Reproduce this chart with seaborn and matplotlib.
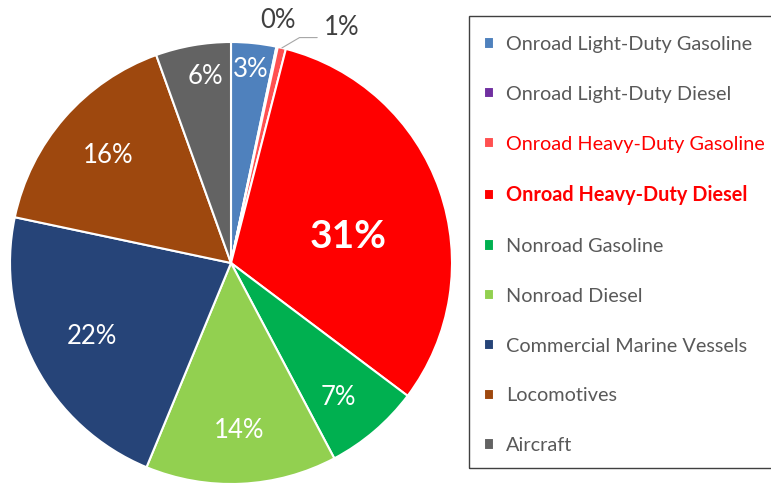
import numpy as np
import matplotlib
matplotlib.use("Agg")
import matplotlib.pyplot as plt
from matplotlib.patches import Rectangle
import seaborn as sns

# datos
categories = ["Onroad Light-Duty Gasoline", "Onroad Light-Duty Diesel",
              "Onroad Heavy-Duty Gasoline", "Onroad Heavy-Duty Diesel",
              "Nonroad Gasoline", "Nonroad Diesel", "Commercial Marine Vessels",
              "Locomotives", "Aircraft"]
shares = [3.3, 0.1, 0.6, 31.3, 7.0, 14.0, 22.1, 16.2, 5.5]
pct_labels = ["3%", "0%", "1%", "31%", "7%", "14%", "22%", "16%", "6%"]

colors = ["#4F81BD", "#7030A0", "#FF5050", "#FF0000", "#00B050",
          "#92D050", "#264478", "#9E480E", "#636363"]
# posicion de cada etiqueta: distancia radial y giro (grados, horario) respecto al centro de la cuña
label_dist = [0.88, 1.12, 1.17, 0.545, 0.78, 0.76, 0.71, 0.74, 0.85]
label_turn = [0, -1, 11, 6.5, 2, 0, 0, 0, 2]

sns.set_style("white")
plt.rcParams["font.family"] = ["Lato", "DejaVu Sans"]

fig = plt.figure(figsize=(7.71, 4.84), dpi=100)
ax = fig.add_axes([10 / 771, 0 / 484, 442 / 771, 442 / 484])

wedges, _ = ax.pie(shares, colors=colors, startangle=90, counterclock=False,
                   radius=1, wedgeprops=dict(edgecolor="white", linewidth=1.5))
ax.set_xlim(-1, 1)
ax.set_ylim(-1, 1)
ax.set_aspect("equal")
ax.axis("off")

for i, (w, lab) in enumerate(zip(wedges, pct_labels)):
    mid = np.deg2rad((w.theta1 + w.theta2) / 2 - label_turn[i])
    d = label_dist[i]
    x, y = d * np.cos(mid), d * np.sin(mid)
    if i == 2:
        ax.text(x - 0.06, y, lab, ha="left", va="center", fontsize=18.5,
                color="#404040", clip_on=False)
    elif d > 1:
        ax.text(x, y, lab, ha="center", va="center", fontsize=18.5, color="#404040",
                clip_on=False)
    elif i == 3:
        ax.text(x, y, lab, ha="center", va="center", fontsize=28, fontweight="bold",
                color="white")
    else:
        ax.text(x, y, lab, ha="center", va="center", fontsize=18.5, color="white")

# linea guia para el 1%
mid = np.deg2rad((wedges[2].theta1 + wedges[2].theta2) / 2)
x0, y0 = 1.0 * np.cos(mid), 1.0 * np.sin(mid)
ax.plot([x0, 0.31, 0.39], [y0, 1.02, 1.02], color="#A6A6A6", lw=0.8, clip_on=False)

# marco de la leyenda
fig.patches.append(Rectangle((469.5 / 771, 1 - 467.5 / 484), 310 / 771, 452 / 484,
                             transform=fig.transFigure, fill=False,
                             edgecolor="#404040", linewidth=1.0))

leg = fig.legend(wedges, categories, loc="upper left",
                 bbox_to_anchor=(484 / 771, 1 - 36 / 484),
                 frameon=False, fontsize=14.3,
                 handlelength=0.5, handleheight=0.5, handletextpad=0.6,
                 labelspacing=1.65, borderpad=0, borderaxespad=0)
for i, t in enumerate(leg.get_texts()):
    if i in (2, 3):
        t.set_color("#FF0000")
    else:
        t.set_color("#595959")
    if i == 3:
        t.set_fontweight("bold")

fig.savefig("out.png", dpi=100)
